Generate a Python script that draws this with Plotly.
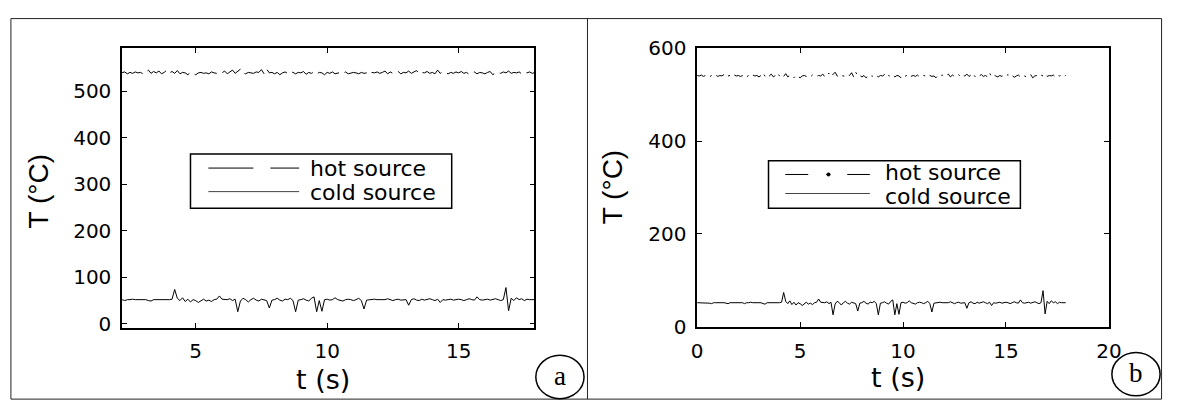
import numpy as np
import plotly.graph_objects as go

# ---------------- data ----------------
# sampling times (s), 0.0 ... 17.9
t = np.round(np.arange(0, 17.95, 0.1), 1).tolist()

hot_source = [
    541, 540, 542, 539, 541, 540, 538, 541, 540, 542,
    539, 541, 540, 543, 538, 540, 541, 539, 542, 540,
    541, 539, 540, 542, 538, 541, 539, 542, 540, 541,
    538, 541, 546, 539, 543, 540, 544, 538, 541, 546,
    540, 543, 539, 545, 538, 541, 540, 536, 541, 539,
    536, 540, 541, 539, 540, 538, 542, 540, 539, 541,
    540, 544, 538, 542, 546, 539, 543, 548, 540, 538,
    541, 540, 539, 542, 541, 547, 538, 548, 540, 541,
    538, 541, 536, 540, 542, 539, 543, 541, 538, 541,
    540, 543, 537, 541, 539, 542, 538, 541, 540, 536,
    541, 539, 542, 538, 540, 541, 539, 542, 538, 540,
    541, 540, 538, 541, 539, 540, 536, 541, 540, 542,
    539, 541, 544, 538, 542, 539, 541, 543, 538, 541,
    540, 544, 539, 542, 545, 538, 541, 540, 543, 539,
    541, 538, 546, 539, 542, 540, 538, 541, 539, 542,
    540, 543, 539, 541, 537, 540, 542, 538, 541, 540,
    538, 541, 543, 536, 540, 541, 539, 542, 540, 544,
    539, 541, 540, 542, 538, 541, 540, 542, 539, 541,
]

cold_source = [
    52, 52, 51, 52, 52, 52, 51, 50, 52, 52,
    52, 53, 52, 52, 51, 50, 52, 52, 52, 51,
    52, 52, 52, 50, 52, 52, 53, 52, 52, 51,
    52, 52, 50, 49, 52, 52, 52, 51, 52, 52,
    52, 53, 74, 55, 50, 56, 48, 53, 47, 52,
    50, 46, 50, 53, 49, 51, 48, 52, 53, 60,
    53, 52, 52, 54, 50, 53, 26, 49, 55, 52,
    47, 52, 55, 51, 49, 53, 52, 50, 34, 51,
    52, 55, 51, 49, 53, 52, 55, 50, 26, 51,
    52, 54, 51, 49, 55, 58, 26, 50, 27, 52,
    53, 51, 52, 56, 52, 51, 49, 52, 53, 52,
    50, 52, 55, 50, 32, 51, 52, 52, 53, 52,
    52, 51, 52, 54, 52, 50, 52, 53, 51, 52,
    52, 40, 52, 54, 51, 50, 53, 51, 52, 54,
    52, 50, 53, 46, 52, 51, 52, 53, 51, 52,
    53, 52, 50, 52, 54, 52, 51, 58, 52, 51,
    52, 53, 51, 52, 54, 52, 50, 52, 78, 28,
    55, 50, 56, 52, 54, 50, 53, 52, 52, 52,
]

series_names = ["hot source", "cold source"]
panel_labels = ["a", "b"]
ticks_a_x = [5, 10, 15]
ticks_a_y = [0, 100, 200, 300, 400, 500]
ticks_b_x = [0, 5, 10, 15, 20]
ticks_b_y = [0, 200, 400, 600]

# ---------------- figure ----------------
W, H = 1179, 413
def px(x):
    return x / W
def py(y):
    return 1 - y / H

FONT = "DejaVu Sans, Liberation Sans, Arial, sans-serif"
FONT_NARROW = "Liberation Sans, Arial, sans-serif"

fig = go.Figure()
# panel a
fig.add_trace(go.Scatter(x=t, y=hot_source, mode="lines", xaxis="x", yaxis="y",
                         line=dict(color="black", width=1, dash="24px,6px"),
                         showlegend=False, name=series_names[0]))
fig.add_trace(go.Scatter(x=t, y=cold_source, mode="lines", xaxis="x", yaxis="y",
                         line=dict(color="black", width=1),
                         showlegend=False, name=series_names[1]))
# panel b
fig.add_trace(go.Scatter(x=t, y=hot_source, mode="lines", xaxis="x2", yaxis="y2",
                         line=dict(color="black", width=1, dash="9px,5px,2px,5px"),
                         showlegend=False, name=series_names[0]))
fig.add_trace(go.Scatter(x=t, y=cold_source, mode="lines", xaxis="x2", yaxis="y2",
                         line=dict(color="black", width=1),
                         showlegend=False, name=series_names[1]))

axis_common = dict(showline=True, linecolor="black", linewidth=1.5, mirror="ticks",
                   ticks="inside", ticklen=5, tickwidth=1, tickcolor="black",
                   showgrid=False, zeroline=False,
                   tickfont=dict(family=FONT, size=20, color="black"))

fig.update_layout(
    width=W, height=H,
    margin=dict(l=0, r=0, t=0, b=0),
    paper_bgcolor="white", plot_bgcolor="white",
    xaxis=dict(domain=[px(118), px(537)], range=[2.2, 17.88], anchor="y",
               tickvals=ticks_a_x, ticklabelstandoff=5, **axis_common),
    yaxis=dict(domain=[py(335), py(38)], range=[-8, 594], anchor="x",
               tickvals=ticks_a_y, ticklabelstandoff=5, **axis_common),
    xaxis2=dict(domain=[px(702.5), px(1121)], range=[0, 20], anchor="y2",
                tickvals=ticks_b_x, ticklabelstandoff=5, **axis_common),
    yaxis2=dict(domain=[py(334.3), py(38.3)], range=[0, 600], anchor="x2",
                tickvals=ticks_b_y, ticklabelstandoff=5, **axis_common),
)

shapes = []
annotations = []
# outer frame and divider
shapes.append(dict(type="rect", xref="paper", yref="paper",
                   x0=px(5), x1=px(1174.5), y0=py(411), y1=py(7),
                   line=dict(color="#222", width=1)))
shapes.append(dict(type="line", xref="paper", yref="paper",
                   x0=px(591), x1=px(591), y0=py(411), y1=py(7),
                   line=dict(color="#222", width=1)))

# axis titles
for xc, yc in [(322, 390), (907, 388)]:
    annotations.append(dict(text="t (s)", xref="paper", yref="paper", x=px(xc), y=py(yc),
                            showarrow=False, xanchor="center", yanchor="middle",
                            font=dict(family=FONT, size=27, color="black")))
for xc, yc in [(33, 190), (616, 186)]:
    annotations.append(dict(text="T (°C)", xref="paper", yref="paper", x=px(xc), y=py(yc),
                            showarrow=False, xanchor="center", yanchor="middle", textangle=-90,
                            font=dict(family=FONT_NARROW, size=28, color="black")))

# legends (boxes, sample lines, text)
legends = [
    dict(box=(187.5, 150.7, 453, 208.3), lx=(205.7, 298), tx=307,
         rows=(165.7, 190.7), trow=(166.5, 191.5), dash="45px,17px", dot=None),
    dict(box=(775, 158, 1031, 208.3), lx=(792, 878), tx=891,
         rows=(172.5, 192.7), trow=(170.5, 195.5), dash="23px,18px,3px,18px", dot=836),
]
for lg in legends:
    x0, y0, x1, y1 = lg["box"]
    shapes.append(dict(type="rect", xref="paper", yref="paper",
                       x0=px(x0), x1=px(x1), y0=py(y1), y1=py(y0),
                       line=dict(color="black", width=1.5), fillcolor="white", layer="above"))
    for i, name in enumerate(series_names):
        dash = lg["dash"] if i == 0 else "solid"
        shapes.append(dict(type="line", xref="paper", yref="paper",
                           x0=px(lg["lx"][0]), x1=px(lg["lx"][1]),
                           y0=py(lg["rows"][i]), y1=py(lg["rows"][i]),
                           line=dict(color="black" if i == 0 else "#444", width=1, dash=dash)))
        annotations.append(dict(text=name, xref="paper", yref="paper",
                                x=px(lg["tx"]), y=py(lg["trow"][i]),
                                showarrow=False, xanchor="left", yanchor="middle",
                                font=dict(family=FONT, size=22, color="black")))
    if lg["dot"] is not None:
        dx, dy = lg["dot"], lg["rows"][0]
        shapes.append(dict(type="circle", xref="paper", yref="paper",
                           x0=px(dx - 1.8), x1=px(dx + 1.8), y0=py(dy + 1.8), y1=py(dy - 1.8),
                           line=dict(color="black", width=0.5), fillcolor="black"))

# panel labels in circles
for (cx, cy), lab in zip([(563, 387.5), (1148.5, 384.5)], panel_labels):
    shapes.append(dict(type="circle", xref="paper", yref="paper",
                       x0=px(cx - 24.5), x1=px(cx + 24.5), y0=py(cy + 23), y1=py(cy - 23),
                       line=dict(color="black", width=1.5)))
    annotations.append(dict(text=lab, xref="paper", yref="paper", x=px(cx), y=py(cy - 1),
                            showarrow=False, xanchor="center", yanchor="middle",
                            font=dict(family="Liberation Serif, Times New Roman, serif",
                                      size=27, color="black")))

fig.update_layout(shapes=shapes, annotations=annotations)
fig.write_html("out.html")
